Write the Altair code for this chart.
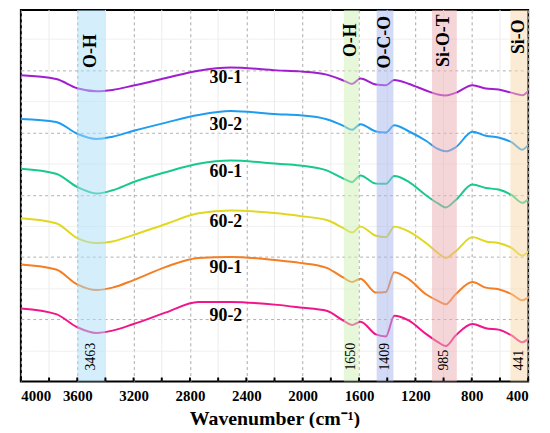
import altair as alt
import pandas as pd

# ---- data (y = offset intensity, arbitrary units, larger = lower) ----
wavenumber = [4000, 3750, 3600, 3463, 3350, 3200, 2970, 2740, 2510, 2180, 2020, 1830, 1710, 1650,
              1590, 1480, 1409, 1350, 1245, 1125, 1040, 985, 915, 795, 700, 610, 515, 441, 400]
s30_1 = [74, 77.7, 87, 90, 88.7, 84.3, 76.7, 69.3, 66, 69, 70, 73.3, 79.3, 82.7,
         77.3, 83.3, 84, 78.7, 82.7, 89.3, 93.3, 94.3, 91.7, 84, 87.3, 88.3, 91.7, 94, 90]
s30_2 = [118, 121, 133, 138.3, 136, 130, 121.7, 114, 110, 113.3, 114.3, 118.3, 125, 129,
         123.3, 130.7, 131.7, 124.3, 130.7, 140, 148.3, 150.7, 146.7, 131, 135, 136.7, 141.7, 149, 144.3]
s60_1 = [168.3, 173.3, 186.7, 193.3, 190, 181.7, 171.7, 163.3, 160, 163.3, 165, 170, 178.3, 181.7,
         175, 183.3, 183.5, 175.7, 181.7, 195, 203.3, 207.3, 200, 184.3, 187.7, 189.3, 195, 202.7, 199]
s60_2 = [218.3, 223.3, 238.3, 243.3, 241.7, 235, 224, 213.3, 210.5, 213.3, 216, 220, 228.3, 232.7,
         226.7, 236, 237.3, 226.7, 231.7, 243.3, 253.3, 258.3, 251.7, 237.3, 241.7, 243.3, 248.3, 256, 251.7]
s90_1 = [265, 270, 285, 290.7, 288.3, 280.7, 267.3, 258.3, 257.3, 260.7, 263.3, 268.3, 278.3, 282.7,
         279.3, 293.3, 292.7, 272.7, 280, 295, 301.7, 305, 295, 282.7, 288.3, 290, 295, 301, 298.3]
s90_2 = [309.3, 315, 328.3, 334, 331.7, 325, 313.3, 302.7, 302.7, 305.7, 308.3, 311.7, 321.7, 326,
         322.7, 335.5, 337.5, 316.7, 321.7, 335, 343.3, 347.3, 336.7, 325, 329.3, 330.7, 336.7, 343.3, 340]

samples = ["30-1", "30-2", "60-1", "60-2", "90-1", "90-2"]
series = [s30_1, s30_2, s60_1, s60_2, s90_1, s90_2]
line_colors = ["#a01ed0", "#1e9cf0", "#18c98b", "#e0d81e", "#f57d22", "#f0168a"]
sample_label_y = [77, 124.5, 171.5, 222.5, 269, 316.5]
sample_label_wn = [2545] * 6

band_names = ["O-H", "O-H", "O-C-O", "Si-O-T", "Si-O"]
band_lo = [3400, 1602, 1356, 906, 400]
band_hi = [3600, 1708, 1475, 1082, 526]
band_peak = ["3463", "1650", "1409", "985", "441"]
band_colors = ["#a9ddf9", "#cfefb3", "#a5b5ed", "#ebadb1", "#f7d7ab"]
band_name_y = [49.5, 38.5, 40.5, 39, 35]
band_peak_y = [372, 372, 372, 372, 372]

x_major = [4000, 3600, 3200, 2800, 2400, 2000, 1600, 1200, 800, 400]
x_minor = [3800, 3400, 3000, 2600, 2200, 1800, 1400, 1000, 600]
y_major = [68.8, 131.7, 194.5, 257.3, 320.2]
y_minor = [37.4, 100.3, 163.1, 225.9, 288.8, 351.6]

# ---- tables ----
rows = []
for name, vals in zip(samples, series):
    for w, v in zip(wavenumber, vals):
        rows.append({"wn": w, "val": v, "sample": name})
lines_df = pd.DataFrame(rows)
labels_df = pd.DataFrame({"sample": samples, "wn": sample_label_wn, "val": sample_label_y})
bands_df = pd.DataFrame({"name": band_names, "lo": band_lo, "hi": band_hi, "peak": band_peak,
                         "color": band_colors, "name_y": band_name_y, "peak_y": band_peak_y})
minor_df = pd.DataFrame({"gx": [float(v) for v in x_minor]})
ticks_df = pd.DataFrame({"gx": [float(v) for v in sorted(x_major + x_minor)]})

FONT = "Liberation Serif"
W, H = 512, 375

xscale = alt.Scale(domain=[4000, 400], nice=False, zero=False)
yscale = alt.Scale(domain=[8, 383], reverse=True, nice=False, zero=False)
cscale = alt.Scale(domain=samples, range=line_colors)

major_y_test = "indexof([68.8,131.7,194.5,257.3,320.2], datum.value) >= 0"

x_axis = alt.Axis(
    values=x_major, format="d",
    ticks=False, tickSize=0, domain=False,
    grid=True, gridColor="#a8a8a8", gridDash=[3, 3], gridWidth=1,
    labelFont=FONT, labelFontSize=15, labelFontWeight="bold", labelColor="black",
    labelPadding=7, labelOverlap=False,
    title="Wavenumber (cm⁻¹)", titleFont=FONT, titleFontSize=20, titleFontWeight="bold",
    titleColor="black", titlePadding=5,
)
y_axis = alt.Axis(
    values=sorted(y_major + y_minor),
    labels=False, ticks=False, domain=False, title=None,
    grid=True,
    gridColor={"condition": {"test": major_y_test, "value": "#b0b0b0"}, "value": "#efefef"},
    gridDash={"condition": {"test": major_y_test, "value": [3, 3]}, "value": [1, 0]},
    gridWidth=1,
)

# faint minor vertical grid lines
vgrid_minor = alt.Chart(minor_df).mark_rule(color="#ececec", strokeWidth=1).encode(
    x=alt.X("gx:Q", scale=xscale, axis=None),
    y=alt.value(0), y2=alt.value(H),
)

lines = alt.Chart(lines_df).mark_line(strokeWidth=2, interpolate="monotone").encode(
    x=alt.X("wn:Q", scale=xscale, axis=x_axis),
    y=alt.Y("val:Q", scale=yscale, axis=y_axis),
    color=alt.Color("sample:N", scale=cscale, legend=None),
    detail="sample:N",
    order=alt.Order("wn:Q", sort="descending"),
)

bands = alt.Chart(bands_df).mark_rect(opacity=0.5).encode(
    x=alt.X("lo:Q", scale=xscale, axis=None),
    x2="hi:Q",
    color=alt.Color("color:N", scale=None),
)

# inward-pointing ticks on the bottom edge
tick_marks = alt.Chart(ticks_df).mark_rule(color="black", strokeWidth=2).encode(
    x=alt.X("gx:Q", scale=xscale, axis=None),
    y=alt.value(H),
    y2=alt.value(H - 4),
)

band_names_txt = alt.Chart(bands_df).transform_calculate(
    mid="(datum.lo + datum.hi) / 2"
).mark_text(angle=270, align="center", baseline="middle", font=FONT, fontSize=18,
            fontWeight="bold", color="black").encode(
    x=alt.X("mid:Q", scale=xscale, axis=None),
    y=alt.Y("name_y:Q", scale=yscale, axis=None),
    text="name:N",
)

band_peaks_txt = alt.Chart(bands_df).transform_calculate(
    mid="(datum.lo + datum.hi) / 2"
).mark_text(angle=270, align="left", baseline="middle", font=FONT, fontSize=14,
            color="black").encode(
    x=alt.X("mid:Q", scale=xscale, axis=None),
    y=alt.Y("peak_y:Q", scale=yscale, axis=None),
    text="peak:N",
)

sample_txt = alt.Chart(labels_df).mark_text(
    align="center", baseline="middle", font=FONT, fontSize=18, fontWeight="bold", color="black"
).encode(
    x=alt.X("wn:Q", scale=xscale, axis=None),
    y=alt.Y("val:Q", scale=yscale, axis=None),
    text="sample:N",
)

chart = alt.layer(vgrid_minor, lines, bands, tick_marks,
                  band_names_txt, band_peaks_txt, sample_txt).resolve_axis(
    x="independent", y="independent"
).properties(
    width=W, height=H,
    autosize=alt.AutoSizeParams(type="none"),
    padding={"left": 13, "top": 0, "right": 14, "bottom": 45},
).configure_view(stroke="black", strokeWidth=2)

chart.save("out.html", embed_options={"renderer": "svg", "actions": False})
